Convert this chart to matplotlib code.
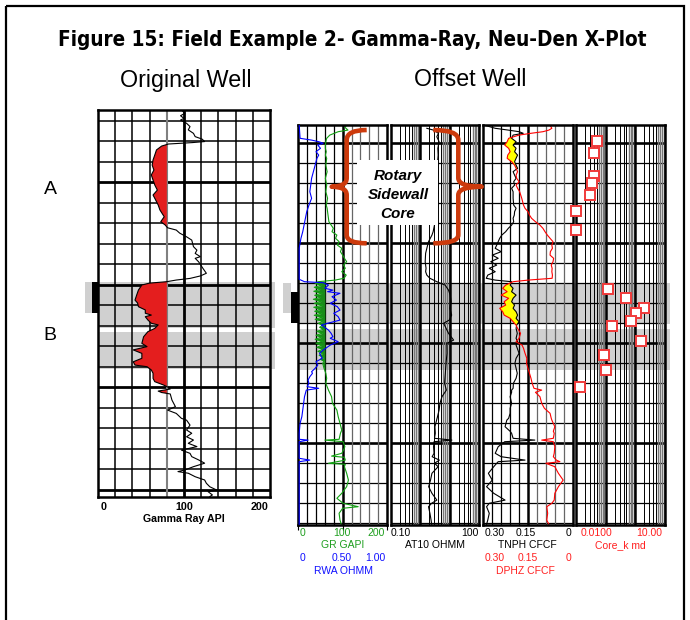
import numpy as np
import matplotlib
matplotlib.use('Agg')
import matplotlib.pyplot as plt
from matplotlib.patches import Rectangle, PathPatch
from matplotlib.path import Path
from matplotlib.transforms import Affine2D, blended_transform_factory
from matplotlib import font_manager
from matplotlib.font_manager import FontProperties

# ---------------- DATA ----------------
# Original well: gamma ray (API) vs depth (ft)
orig_depth = [5014.7, 5016.3, 5017.5, 5018.8, 5019.6, 5021.2, 5022.8, 5024.4, 5026.1, 5027.7,
              5028.9, 5030.1, 5030.6, 5031.3, 5032.3, 5034.2, 5036.7, 5039.1, 5041.6, 5044.0,
              5046.4, 5048.9, 5051.3, 5053.8, 5056.2, 5058.6, 5061.1, 5063.5, 5066.8, 5069.2,
              5070.8, 5072.2, 5073.3, 5074.8, 5076.6, 5078.2, 5081.4, 5083.1, 5084.7, 5086.3,
              5087.1, 5088.8, 5092.0, 5094.4, 5095.7, 5096.9, 5097.7, 5098.5, 5099.2, 5100.1,
              5102.6, 5105.0, 5107.5, 5108.9, 5110.7, 5112.3, 5113.9, 5114.8, 5115.6, 5117.2,
              5118.8, 5119.6, 5121.3, 5122.9, 5125.4, 5128.6, 5130.2, 5131.8, 5133.5, 5135.9,
              5137.6, 5139.2, 5140.0, 5141.6, 5143.2, 5145.7, 5147.3, 5148.9, 5150.1, 5150.9,
              5151.9, 5152.6, 5153.3, 5156.3, 5159.5, 5161.2, 5162.8, 5165.2, 5166.1, 5168.5,
              5170.9, 5172.5, 5174.2, 5175.8, 5177.4, 5179.0, 5180.7, 5182.3, 5183.9, 5185.5,
              5187.1, 5188.8, 5190.4, 5191.2, 5192.0, 5193.7, 5195.3, 5196.9, 5198.6, 5200.2,
              5201.0, 5202.6, 5203.4]
orig_gr = [97, 101, 96, 100, 96, 103, 107, 105, 111, 113,
           121, 124, 110, 82, 74, 68, 66, 64, 63, 65,
           62, 64, 66, 69, 64, 67, 70, 72, 77, 73,
           78, 81, 91, 95, 103, 109, 111, 115, 113, 119,
           113, 117, 122, 126, 119, 107, 91, 80, 60, 51,
           47, 45, 43, 46, 47, 55, 55, 62, 55, 58,
           62, 70, 66, 58, 53, 51, 57, 41, 51, 51,
           41, 43, 57, 62, 64, 64, 66, 76, 82, 84,
           70, 74, 84, 86, 90, 81, 91, 97, 103, 107,
           103, 109, 103, 111, 105, 115, 97, 107, 109, 117,
           124, 111, 101, 93, 105, 113, 124, 126, 130, 138,
           128, 133, 130]
orig_gr_cutoff = 80

# Offset well: GR (GAPI)
off_gr_depth = [5990.9, 5992.0, 5993.4, 5994.2, 5995.9, 5997.5, 5999.2, 6000.9, 6002.5, 6004.2,
                6005.9, 6007.5, 6010.9, 6014.2, 6017.5, 6020.9, 6024.2, 6027.5, 6030.9, 6032.5,
                6035.9, 6039.2, 6042.5, 6044.2, 6045.9, 6047.5, 6049.2, 6050.9, 6052.5, 6054.2,
                6055.9, 6057.5, 6059.2, 6060.9, 6062.5, 6064.2, 6065.9, 6067.5, 6068.4, 6069.2,
                6070.0, 6071.0, 6072.0, 6073.0, 6074.0, 6075.0, 6076.0, 6077.0, 6078.0, 6079.0,
                6080.0, 6081.0, 6082.0, 6083.0, 6084.0, 6085.0, 6086.0, 6087.0, 6088.0, 6089.0,
                6090.0, 6091.0, 6092.0, 6093.0, 6094.0, 6095.0, 6096.0, 6097.0, 6098.0, 6099.0,
                6100.0, 6101.0, 6102.0, 6103.0, 6104.0, 6105.0, 6106.0, 6107.0, 6108.0, 6109.0,
                6110.0, 6112.5, 6115.0, 6117.5, 6120.0, 6123.4, 6126.7, 6130.0, 6133.4, 6136.7,
                6140.0, 6143.4, 6145.0, 6148.0, 6148.4, 6149.2, 6151.7, 6153.3, 6155.0, 6156.4,
                6157.0, 6158.4, 6160.0, 6160.5, 6161.7, 6165.0, 6168.4, 6171.7, 6175.0, 6177.5,
                6180.0, 6181.7, 6182.5, 6185.0, 6188.4, 6190.5]
off_gr = [109, 105, 112, 90, 71, 64, 62, 61, 61, 63,
          61, 64, 62, 65, 61, 64, 62, 66, 63, 65,
          67, 69, 79, 76, 87, 84, 92, 88, 98, 95,
          100, 104, 109, 102, 106, 98, 108, 103, 83, 45,
          38, 52, 36, 50, 35, 53, 37, 50, 34, 52,
          36, 55, 35, 50, 37, 52, 36, 54, 38, 56,
          45, 55, 48, 57, 42, 54, 40, 52, 38, 55,
          40, 53, 42, 56, 44, 55, 47, 57, 50, 58,
          55, 58, 62, 64, 62, 68, 75, 77, 87, 90,
          94, 98, 95, 92, 60, 101, 105, 102, 98, 75,
          104, 106, 68, 106, 104, 109, 113, 109, 98, 87,
          101, 135, 100, 92, 94, 97]
off_gr_cutoff = 60

# Offset well: RWA (ohmm)
off_rwa_depth = [5990.9, 5997.5, 5998.4, 5999.2, 6000.0, 6000.9, 6002.5, 6004.2, 6005.9, 6007.5,
                 6010.9, 6014.2, 6017.5, 6020.9, 6024.2, 6027.5, 6030.9, 6034.2, 6037.5, 6040.9,
                 6044.2, 6047.5, 6052.5, 6060.0, 6068.0, 6069.2, 6069.7, 6070.9, 6072.5, 6073.4,
                 6074.2, 6075.0, 6076.7, 6078.4, 6080.0, 6081.7, 6083.4, 6085.0, 6086.7, 6088.4,
                 6090.0, 6090.9, 6091.7, 6093.4, 6095.0, 6096.7, 6097.5, 6099.2, 6100.9, 6103.4,
                 6105.0, 6107.5, 6109.2, 6110.9, 6112.5, 6114.2, 6115.0, 6116.7, 6118.4, 6120.0,
                 6121.7, 6122.5, 6123.4, 6126.7, 6130.0, 6133.4, 6136.7, 6140.0, 6145.0, 6148.0,
                 6148.4, 6149.2, 6157.5, 6158.4, 6159.2, 6190.5]
off_rwa = [0.01, 0.02, 0.15, 0.23, 0.28, 0.22, 0.25, 0.20, 0.23, 0.21,
           0.19, 0.17, 0.15, 0.14, 0.13, 0.15, 0.12, 0.095, 0.08, 0.065,
           0.05, 0.03, 0.01, 0.01, 0.01, 0.07, 0.28, 0.34, 0.30, 0.39,
           0.33, 0.47, 0.38, 0.43, 0.36, 0.44, 0.47, 0.40, 0.45, 0.47,
           0.33, 0.26, 0.29, 0.34, 0.37, 0.39, 0.36, 0.45, 0.36, 0.28,
           0.24, 0.27, 0.20, 0.22, 0.19, 0.15, 0.16, 0.13, 0.11, 0.12,
           0.10, 0.23, 0.09, 0.07, 0.06, 0.05, 0.04, 0.02, 0.01, 0.01,
           0.11, 0.01, 0.01, 0.13, 0.01, 0.01]

# Offset well: AT10 resistivity (ohmm)
off_res_depth = [5992.5, 5993.4, 5995.0, 5996.7, 5999.2, 6002.5, 6005.9, 6010.0, 6015.0, 6020.0,
                 6025.0, 6030.0, 6035.0, 6040.9, 6044.2, 6045.9, 6049.2, 6052.5, 6055.0, 6059.2,
                 6062.5, 6064.2, 6065.9, 6067.5, 6069.2, 6070.9, 6073.4, 6075.9, 6079.2, 6082.5,
                 6085.9, 6088.4, 6090.0, 6091.7, 6095.0, 6098.4, 6100.0, 6105.0, 6110.0, 6115.0,
                 6120.0, 6123.4, 6126.7, 6130.0, 6133.4, 6136.7, 6141.7, 6145.0, 6147.5, 6148.4,
                 6149.2, 6151.7, 6155.0, 6156.7, 6158.4, 6160.0, 6161.7, 6165.0, 6168.4, 6171.7,
                 6175.0, 6178.4, 6180.0, 6181.7, 6185.0, 6188.4, 6190.5]
off_at10 = [1.65, 2.77, 4.1, 3.6, 4.3, 3.9, 4.0, 3.8, 4.0, 3.7,
            3.9, 3.6, 3.4, 3.0, 2.7, 2.46, 1.88, 1.65, 1.5, 1.45,
            1.55, 1.5, 1.65, 2.1, 3.6, 6.9, 9.0, 10.3, 11.0, 10.0,
            11.5, 9.5, 6.1, 7.0, 9.0, 13.4, 7.9, 8.0, 7.4, 7.0,
            6.6, 7.6, 5.4, 4.6, 4.3, 3.8, 3.1, 3.2, 3.0, 11.7,
            2.9, 2.8, 2.9, 2.5, 4.4, 3.0, 4.0, 2.46, 2.2, 1.9,
            2.46, 3.6, 2.4, 1.88, 2.1, 2.3, 2.4]

# Offset well: neutron (TNPH) and density porosity (DPHZ), v/v
off_np_depth = [5991.0, 5992.5, 5993.4, 5994.2, 5995.0, 5995.9, 5997.5, 5999.2, 6000.9, 6002.5,
                6004.2, 6005.9, 6007.5, 6009.2, 6010.9, 6012.5, 6014.2, 6015.9, 6017.5, 6019.2,
                6020.9, 6022.5, 6024.2, 6027.5, 6030.9, 6032.5, 6034.2, 6035.9, 6037.5, 6039.2,
                6040.9, 6042.5, 6044.2, 6045.9, 6047.5, 6049.2, 6050.9, 6052.5, 6054.2, 6055.9,
                6057.5, 6059.2, 6060.9, 6062.5, 6064.2, 6065.9, 6067.5, 6068.4, 6069.2, 6070.9,
                6072.5, 6074.2, 6075.9, 6077.5, 6079.2, 6080.9, 6082.5, 6084.2, 6085.9, 6087.5,
                6089.2, 6090.9, 6092.5, 6095.0, 6097.5, 6099.2, 6100.9, 6102.5, 6105.0, 6107.5,
                6110.0, 6112.5, 6115.0, 6117.5, 6120.0, 6122.5, 6123.4, 6124.5, 6126.7, 6130.0,
                6132.5, 6135.0, 6137.5, 6138.4, 6141.7, 6144.0, 6145.0, 6147.5, 6148.4, 6149.2,
                6151.7, 6155.0, 6156.7, 6158.4, 6159.2, 6160.0, 6161.7, 6165.0, 6168.4, 6171.7,
                6175.0, 6178.4, 6180.0, 6181.7, 6185.0, 6188.4, 6190.5]
off_tnph = [0.295, 0.260, 0.216, 0.180, 0.166, 0.200, 0.205, 0.190, 0.200, 0.190,
            0.195, 0.185, 0.190, 0.195, 0.190, 0.185, 0.200, 0.195, 0.190, 0.198,
            0.195, 0.205, 0.200, 0.200, 0.198, 0.190, 0.195, 0.196, 0.200, 0.198,
            0.205, 0.216, 0.225, 0.238, 0.245, 0.250, 0.255, 0.260, 0.240, 0.270,
            0.250, 0.275, 0.255, 0.280, 0.260, 0.285, 0.290, 0.260, 0.205, 0.210,
            0.200, 0.205, 0.190, 0.200, 0.205, 0.195, 0.200, 0.190, 0.185, 0.190,
            0.180, 0.188, 0.190, 0.186, 0.190, 0.185, 0.190, 0.186, 0.180, 0.190,
            0.194, 0.190, 0.186, 0.190, 0.199, 0.200, 0.205, 0.205, 0.210, 0.205,
            0.210, 0.210, 0.215, 0.221, 0.227, 0.210, 0.205, 0.200, 0.127, 0.228,
            0.250, 0.260, 0.240, 0.160, 0.250, 0.255, 0.265, 0.283, 0.270, 0.289,
            0.265, 0.227, 0.280, 0.289, 0.280, 0.285, 0.289]
off_dphz = [0.076, 0.070, 0.080, 0.100, 0.140, 0.180, 0.215, 0.220, 0.228, 0.215,
            0.210, 0.218, 0.220, 0.205, 0.195, 0.190, 0.185, 0.190, 0.188, 0.180,
            0.190, 0.185, 0.178, 0.171, 0.165, 0.160, 0.150, 0.145, 0.138, 0.125,
            0.110, 0.100, 0.093, 0.085, 0.076, 0.066, 0.070, 0.068, 0.075, 0.076,
            0.064, 0.066, 0.072, 0.069, 0.070, 0.068, 0.069, 0.150, 0.200, 0.225,
            0.235, 0.220, 0.240, 0.215, 0.230, 0.225, 0.245, 0.235, 0.230, 0.210,
            0.200, 0.190, 0.185, 0.175, 0.180, 0.190, 0.170, 0.165, 0.160, 0.154,
            0.155, 0.150, 0.145, 0.140, 0.136, 0.130, 0.104, 0.125, 0.110, 0.104,
            0.095, 0.076, 0.072, 0.070, 0.060, 0.065, 0.062, 0.065, 0.104, 0.065,
            0.060, 0.062, 0.065, 0.055, 0.043, 0.090, 0.060, 0.048, 0.032, 0.048,
            0.060, 0.062, 0.070, 0.087, 0.084, 0.087, 0.080]

# Offset well: rotary sidewall core permeability (md)
core_depth = [5998.7, 6004.7, 6016.2, 6020.0, 6025.9, 6033.7, 6043.4, 6072.7, 6077.2, 6082.5,
              6085.0, 6088.7, 6091.2, 6098.7, 6106.0, 6113.5, 6122.0]
core_k = [0.052, 0.041, 0.040, 0.0355, 0.030, 0.0102, 0.0102, 0.123, 0.48, 2.0,
          1.05, 0.70, 0.168, 1.5, 0.090, 0.103, 0.0136]

# Zones (depth, ft)
orig_zones = [(5098.7, 5120.9), (5123.3, 5141.2)]
orig_marker = (5098.7, 5113.9)
off_zones = [(6069.9, 6090.4), (6092.9, 6113.4)]
off_marker = (6074.4, 6089.9)
off_marker_shade = (6069.9, 6084.9)

orig_range = (5014.7, 5203.6)
off_range = (5990.85, 6190.6)

# ---------------- FIGURE ----------------
W, H = 690, 620
fig = plt.figure(figsize=(W / 100, H / 100), dpi=100)
plt.rcParams['font.family'] = ['Liberation Sans', 'DejaVu Sans']

# look for a condensed / narrow bold face for the title
title_fp = None
cands = []
for f in font_manager.fontManager.ttflist:
    nm = f.name
    st = str(f.stretch)
    is_narrow = ('Narrow' in nm) or ('Condensed' in nm) or st in ('condensed', 'semi-condensed',
                                                                    'extra-condensed')
    wt = f.weight if isinstance(f.weight, int) else {'bold': 700, 'normal': 400}.get(f.weight, 400)
    if is_narrow and wt >= 600 and f.style == 'normal':
        pri = 0 if 'Liberation' in nm else (1 if 'Arial' in nm else 2)
        cands.append((pri, f.fname))
if cands:
    cands.sort()
    title_fp = FontProperties(fname=cands[0][1])
else:
    title_fp = FontProperties(family=['Liberation Sans', 'DejaVu Sans'], weight='bold')

pix = Affine2D().scale(1.0 / W, -1.0 / H).translate(0, 1) + fig.transFigure
GRAY = '#D0D0D0'


def add_track(x0, x1, y0, y1):
    ax = fig.add_axes([x0 / W, 1 - y1 / H, (x1 - x0) / W, (y1 - y0) / H])
    ax.set_facecolor('none')
    for s in ax.spines.values():
        s.set_linewidth(1.8)
        s.set_color('black')
        s.set_zorder(4)
    return ax


def hide_ticks(ax):
    ax.tick_params(which='both', bottom=False, left=False, top=False, right=False,
                   labelbottom=False, labelleft=False, labeltop=False, labelright=False)


def depth_grid(ax, top, bot, lw_minor, lw_major):
    d = int(np.ceil(top / 10.0)) * 10
    while d <= bot:
        ax.axhline(d, color='black', lw=lw_major if d % 50 == 0 else lw_minor, zorder=1)
        d += 10


def lin_grid(ax, lo, hi, n):
    step = (hi - lo) / n
    for i in range(1, n):
        v = lo + i * step
        if i == n // 2:
            ax.axvline(v, color='black', lw=1.8, zorder=1)
        elif i < n // 2:
            ax.axvline(v, color='black', lw=0.9, zorder=1)
        else:
            ax.axvline(v, color='#666666', lw=0.9, zorder=1)


def log_grid(ax, lo_exp, hi_exp):
    for e in range(lo_exp, hi_exp):
        dec = 10.0 ** e
        if e > lo_exp:
            ax.axvline(dec, color='black', lw=1.8, zorder=1)
        for m in range(2, 10):
            if m <= 5:
                ax.axvline(m * dec, color='black', lw=0.7, zorder=1)
            else:
                ax.axvline(m * dec, color='#777777', lw=1.0, zorder=1)


# ---- Original well track ----
ax0 = add_track(98, 270, 110, 497)
ax0.set_xlim(0, 200)
ax0.set_ylim(orig_range[1], orig_range[0])
hide_ticks(ax0)
depth_grid(ax0, orig_range[0], orig_range[1], 1.1, 2.0)
for v in range(20, 200, 20):
    if v == 80:
        ax0.axvline(v, color='#808080', lw=1.5, zorder=1)
    elif v == 100:
        ax0.axvline(v, color='black', lw=2.0, zorder=1)
    else:
        ax0.axvline(v, color='black', lw=1.1, zorder=1)
og = np.array(orig_gr, float)
od = np.array(orig_depth, float)
ax0.fill_betweenx(od, og, orig_gr_cutoff, where=og < orig_gr_cutoff, interpolate=True,
                  color='#E41E1E', lw=0, zorder=2)
ax0.plot(og, od, color='black', lw=0.8, zorder=3)

bt0 = blended_transform_factory(pix, ax0.transData)
for a, b in orig_zones:
    fig.add_artist(Rectangle((98, a), 177, b - a, transform=bt0, fc=GRAY, ec='none', zorder=-1))
fig.add_artist(Rectangle((85, orig_marker[0]), 13, orig_marker[1] - orig_marker[0],
                         transform=bt0, fc=GRAY, ec='none', zorder=-1))
fig.add_artist(Rectangle((91.5, orig_marker[0]), 6.5, orig_marker[1] - orig_marker[0],
                         transform=bt0, fc='black', ec='none', zorder=5))

# ---- Offset well tracks ----
Y0, Y1 = 125, 524.5
ax1 = add_track(298.3, 387, Y0, Y1)
ax2 = add_track(391, 479.3, Y0, Y1)
ax3 = add_track(483.3, 572.7, Y0, Y1)
ax4 = add_track(576, 665, Y0, Y1)
for ax in (ax1, ax2, ax3, ax4):
    ax.set_ylim(off_range[1], off_range[0])
ax1.set_xlim(0, 200)
ax2.set_xscale('log'); ax2.set_xlim(0.1, 100)
ax3.set_xlim(0.30, 0.0)
ax4.set_xscale('log'); ax4.set_xlim(0.01, 10)
for ax in (ax1, ax2, ax3, ax4):
    hide_ticks(ax)
    depth_grid(ax, off_range[0], off_range[1], 0.9, 1.9)
lin_grid(ax1, 0, 200, 10)
lin_grid(ax3, 0.30, 0.0, 10)
log_grid(ax2, -1, 2)
log_grid(ax4, -2, 1)

# Track 1: GR + RWA
gd = np.array(off_gr_depth, float)
gv = np.array(off_gr, float)
ax1.fill_betweenx(gd, gv, off_gr_cutoff, where=gv < off_gr_cutoff, interpolate=True,
                  color='#1A8C1A', lw=0, zorder=2)
ax1.plot(gv, gd, color='#12A012', lw=0.8, zorder=3)
ax1b = ax1.twiny()
ax1b.set_xlim(0, 1.0)
ax1b.set_ylim(off_range[1], off_range[0])
ax1b.set_facecolor('none')
hide_ticks(ax1b)
for s in ax1b.spines.values():
    s.set_visible(False)
ax1b.plot(off_rwa, off_rwa_depth, color='#0000FF', lw=0.8, zorder=3)

# Track 2: AT10
ax2.plot(off_at10, off_res_depth, color='black', lw=0.8, zorder=3)

# Track 3: TNPH / DPHZ with crossover fill
nd = np.array(off_np_depth, float)
tn = np.array(off_tnph, float)
dp = np.array(off_dphz, float)
ax3.fill_betweenx(nd, tn, dp, where=dp > tn, interpolate=True, color='#FFFF00', lw=0, zorder=2)
ax3.plot(tn, nd, color='black', lw=0.8, zorder=3)
ax3.plot(dp, nd, color='#FF0000', lw=0.8, zorder=3)

# Track 4: core permeability
ax4.plot(core_k, core_depth, 's', mfc='white', mec='#F03A3A', mew=1.4, ms=6.8,
         clip_on=False, zorder=6)

bt1 = blended_transform_factory(pix, ax1.transData)
for a, b in off_zones:
    fig.add_artist(Rectangle((298, a), 372, b - a, transform=bt1, fc=GRAY, ec='none', zorder=-1))
fig.add_artist(Rectangle((283, off_marker_shade[0]), 8, off_marker_shade[1] - off_marker_shade[0],
                         transform=bt1, fc=GRAY, ec='none', zorder=-1))
fig.add_artist(Rectangle((290.7, off_marker[0]), 7.6, off_marker[1] - off_marker[0],
                         transform=bt1, fc='black', ec='none', zorder=5))

# ---- Braces and core annotation ----
BR = '#CC3A0C'
C3 = Path.CURVE3
left_v = [(366.7, 130), (346.7, 130), (346.7, 140), (346.7, 178), (346.7, 186.7), (331.7, 186.7),
          (346.7, 186.7), (346.7, 195), (346.7, 235), (346.7, 243.3), (366.7, 243.3)]
right_v = [(433.3, 130), (458.3, 130), (458.3, 140), (458.3, 178), (458.3, 186.7), (481.7, 186.7),
           (458.3, 186.7), (458.3, 195), (458.3, 235), (458.3, 243.3), (433.3, 243.3)]
codes = [Path.MOVETO, C3, C3, Path.LINETO, C3, C3, C3, C3, Path.LINETO, C3, C3]
fig.add_artist(Rectangle((356.7, 160), 81.6, 65, transform=pix, fc='white', ec='none', zorder=9))
for verts in (left_v, right_v):
    fig.add_artist(PathPatch(Path(verts, codes), transform=pix, fc='none', ec=BR, lw=3.3,
                             capstyle='butt', joinstyle='round', zorder=10))
for s, y in (('Rotary', 176), ('Sidewall', 195), ('Core', 213.5)):
    fig.text(398, y, s, transform=pix, ha='center', va='center', fontsize=11,
             fontweight='bold', fontstyle='italic', zorder=11)

# ---- Titles ----
fig.canvas.draw()
renderer = fig.canvas.get_renderer()


def fit(t, width):
    bb = t.get_window_extent(renderer)
    t.set_fontsize(t.get_fontsize() * width / bb.width)


t = fig.text(351.8, 40, 'Figure 15: Field Example 2- Gamma-Ray, Neu-Den X-Plot', transform=pix,
             ha='center', va='center', fontproperties=title_fp)
t.set_fontsize(18)
fit(t, 588)
t = fig.text(185.9, 80, 'Original Well', transform=pix, ha='center', va='center', fontsize=16)
fit(t, 132)
t = fig.text(470, 80, 'Offset Well', transform=pix, ha='center', va='center', fontsize=16)
fit(t, 113)
fig.text(50, 190, 'A', transform=pix, ha='center', va='center', fontsize=14)
fig.text(50, 335, 'B', transform=pix, ha='center', va='center', fontsize=14)


# ---- Scale labels ----
def lab(x, y, s, color='black', ha='center', weight='normal', size=7.5):
    fig.text(x, y, s, transform=pix, ha=ha, va='center', color=color, fontsize=size,
             fontweight=weight)


orig_ticks = ['0', '100', '200']
lab(103.3, 506.5, orig_ticks[0], weight='bold', size=7.7)
lab(184, 506.5, orig_ticks[1], weight='bold', size=7.7)
lab(260, 506.5, orig_ticks[2], weight='bold', size=7.7)
lab(184, 518.5, 'Gamma Ray API', weight='bold', size=7.7)

GRN, BLU, RED = '#1E9E1E', '#1010FF', '#FF2020'
gr_ticks = ['0', '100', '200']
rwa_ticks = ['0', '0.50', '1.00']
res_ticks = ['0.10', '100']
phi_ticks = ['0.30', '0.15', '0']
k_ticks = ['0.0100', '10.00']
RA, RB, RC, RD = 533, 545.5, 558, 571
lab(299.5, RA, gr_ticks[0], GRN, 'left'); lab(341.7, RA, gr_ticks[1], GRN); lab(385, RA, gr_ticks[2], GRN, 'right')
lab(343, RB, 'GR GAPI', GRN)
lab(299.5, RC, rwa_ticks[0], BLU, 'left'); lab(341.7, RC, rwa_ticks[1], BLU); lab(385, RC, rwa_ticks[2], BLU, 'right')
lab(343, RD, 'RWA OHMM', BLU)
lab(390.5, RA, res_ticks[0], 'black', 'left'); lab(478.5, RA, res_ticks[1], 'black', 'right')
lab(435, RB, 'AT10 OHMM')
lab(484.5, RA, phi_ticks[0], 'black', 'left'); lab(525.5, RA, phi_ticks[1]); lab(571.5, RA, phi_ticks[2], 'black', 'right')
lab(527.5, RB, 'TNPH CFCF')
lab(484.5, RC, phi_ticks[0], RED, 'left'); lab(527.5, RC, phi_ticks[1], RED); lab(571.5, RC, phi_ticks[2], RED, 'right')
lab(525, RD, 'DPHZ CFCF', RED)
lab(581, RA, k_ticks[0], RED, 'left'); lab(662.5, RA, k_ticks[1], RED, 'right')
lab(620, RB, 'Core_k md', RED)

# ---- Outer frame ----
fig.add_artist(Rectangle((5.5, 6), 678.5, 640, transform=pix, fc='none', ec='black', lw=1.6,
                         zorder=12, clip_on=False))

fig.savefig('out.png', dpi=100)
